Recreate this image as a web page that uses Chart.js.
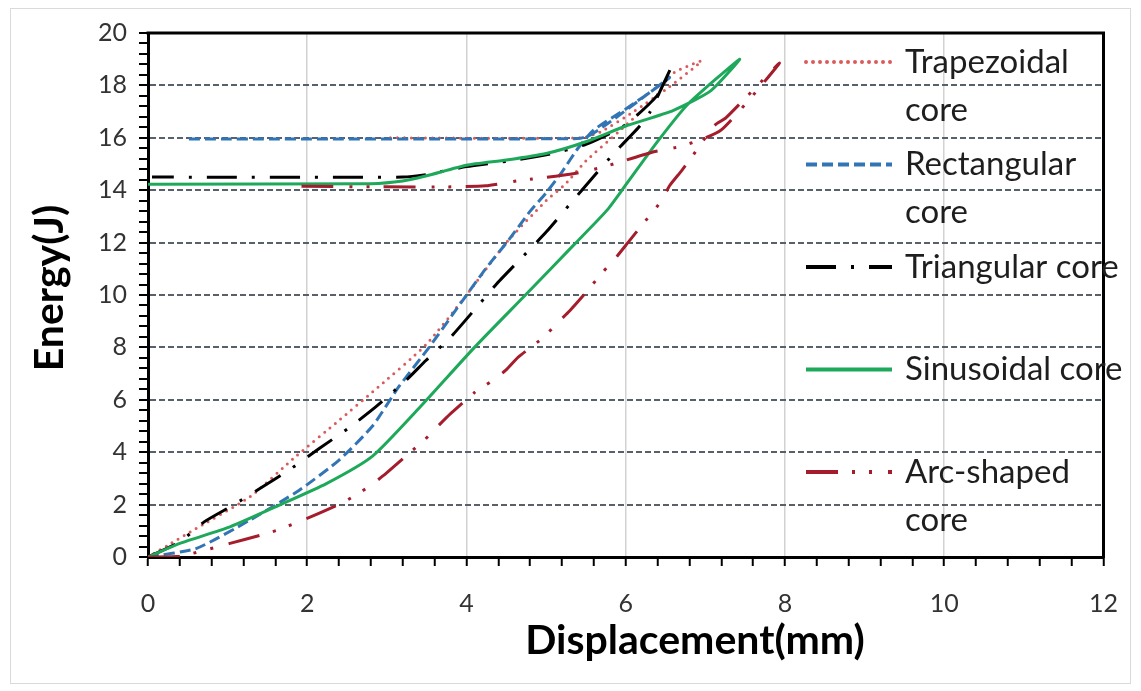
<!DOCTYPE html>
<html>
<head>
<meta charset="utf-8">
<title>Energy vs displacement</title>
<script src="https://cdn.jsdelivr.net/npm/chart.js@4.4.1/dist/chart.umd.min.js"></script>
<style>
  html, body { margin: 0; padding: 0; background: #fff; }
  #wrap { width: 1141px; height: 691px; }
</style>
</head>
<body>
<div id="wrap"><canvas id="chart" width="1141" height="691"></canvas></div>
<script>
// Impact energy absorbed vs. displacement for the five sandwich core shapes.
// Each series runs from the origin up to the peak, then back along the rebound.
const SERIES_NAMES = ["Trapezoidal core", "Rectangular core", "Triangular core", "Sinusoidal core", "Arc-shaped core"];
const LEGEND_LINES = [["Trapezoidal", "core"], ["Rectangular", "core"], ["Triangular core"], ["Sinusoidal core"], ["Arc-shaped", "core"]];

const TRAP_X = [0, 0.25, 0.53, 1.28, 1.86, 2.4, 2.82, 3.49, 4.0, 4.5, 5.0, 5.24, 5.5, 5.9, 6.37, 6.57, 6.95, 6.55, 6.1, 5.7, 5.45, 3.0];
const TRAP_Y = [0, 0.45, 0.96, 2.3, 3.85, 5.22, 6.3, 8.1, 10.0, 12.0, 13.6, 14.23, 15.12, 16.2, 17.54, 18.42, 18.93, 17.95, 17.0, 16.25, 16.0, 16.0];

const RECT_X = [0, 0.61, 1.28, 1.9, 2.4, 2.82, 3.15, 3.53, 3.86, 4.24, 4.53, 4.8, 5.0, 5.2, 5.4, 5.6, 6.0, 6.45, 6.55, 6.2, 5.8, 5.55, 5.4, 0.48];
const RECT_Y = [0, 0.33, 1.41, 2.55, 3.7, 5.0, 6.5, 8.0, 9.4, 11.0, 12.1, 13.2, 13.9, 14.7, 15.6, 16.3, 17.1, 18.05, 18.3, 17.5, 16.6, 16.1, 15.97, 15.95];

const TRI_X = [0, 0.4, 0.71, 1.07, 1.44, 1.8, 2.15, 2.51, 2.86, 3.24, 3.49, 3.8, 4.11, 4.38, 4.7, 5.0, 5.3, 5.57, 5.88, 6.16, 6.3, 6.57, 6.42, 6.0, 5.5, 5.0, 4.5, 4.0, 3.5, 3.2, 0.05];
const TRI_Y = [0, 0.58, 1.35, 1.98, 2.68, 3.38, 4.14, 4.9, 5.73, 6.74, 7.5, 8.39, 9.47, 10.43, 11.44, 12.4, 13.47, 14.43, 15.5, 16.39, 16.96, 18.68, 17.7, 16.5, 15.75, 15.35, 15.1, 14.9, 14.6, 14.5, 14.5];

const SINE_X = [0, 0.4, 1.03, 1.65, 2.24, 2.82, 3.44, 4.1, 4.74, 5.36, 5.76, 6.0, 6.41, 6.78, 7.43, 7.07, 6.6, 6.0, 5.5, 5.0, 4.5, 4.0, 3.5, 3.2, 2.8, 0];
const SINE_Y = [0, 0.52, 1.15, 1.98, 2.8, 3.85, 5.8, 8.0, 10.0, 11.95, 13.22, 14.2, 15.9, 17.28, 19.0, 17.8, 17.05, 16.45, 15.85, 15.4, 15.15, 14.95, 14.55, 14.35, 14.25, 14.23];

const ARC_X = [0, 0.4, 1.03, 1.42, 1.63, 1.84, 2.05, 2.42, 2.61, 2.8, 2.99, 3.3, 3.47, 3.63, 3.8, 4.11, 4.3, 4.49, 4.65, 4.97, 5.13, 5.3, 5.45, 5.72, 5.88, 6.03, 6.18, 6.45, 6.55, 6.7, 6.84, 7.11, 7.26, 7.93, 7.2, 6.72, 6.32, 5.7, 5.32, 4.65, 4.24, 3.6, 1.85];
const ARC_Y = [0, 0.03, 0.52, 0.84, 1.03, 1.28, 1.54, 2.04, 2.36, 2.74, 3.19, 4.01, 4.46, 4.96, 5.47, 6.3, 6.68, 7.12, 7.63, 8.39, 8.9, 9.41, 9.92, 10.9, 11.44, 12.01, 12.58, 13.6, 14.17, 14.74, 15.31, 16.46, 16.77, 18.85, 16.3, 15.7, 15.44, 14.87, 14.62, 14.36, 14.17, 14.12, 14.15];

const X_MAX = 12;
const Y_MAX = 20;
const MAJOR_STEP = 2;
const MINOR_STEP = 0.4;

const FONT = "Lato, 'Open Sans', sans-serif";

function toPoints(xs, ys) {
  return xs.map((x, i) => ({ x, y: ys[i] }));
}

function isMajor(v) {
  return Math.abs(v - Math.round(v / MAJOR_STEP) * MAJOR_STEP) < 1e-6;
}

const seriesStyles = [
  { color: "#d95c5c", dash: [0, 7], cap: "round" },
  { color: "#3275b5", dash: [11, 5], cap: "butt" },
  { color: "#000000", dash: [30, 15, 3, 15], cap: "butt" },
  { color: "#1ea85a", dash: [], cap: "butt" },
  { color: "#a51d2d", dash: [32, 14, 3, 14, 3, 16], cap: "butt" }
];

const seriesData = [
  toPoints(TRAP_X, TRAP_Y),
  toPoints(RECT_X, RECT_Y),
  toPoints(TRI_X, TRI_Y),
  toPoints(SINE_X, SINE_Y),
  toPoints(ARC_X, ARC_Y)
];

const datasets = SERIES_NAMES.map((name, i) => ({
  label: name,
  data: seriesData[i],
  borderColor: seriesStyles[i].color,
  borderDash: seriesStyles[i].dash,
  borderCapStyle: seriesStyles[i].cap,
  borderJoinStyle: "round",
  borderWidth: 3,
  pointRadius: 0,
  tension: 0.2,
  fill: false,
  order: SERIES_NAMES.length - 1 - i
}));

// frame, legend and axis titles drawn straight onto the canvas
const chartDecor = {
  id: "chartDecor",
  beforeDraw(chart) {
    const { ctx, width, height } = chart;
    ctx.save();
    ctx.fillStyle = "#fff";
    ctx.fillRect(0, 0, width, height);
    ctx.strokeStyle = "#dadada";
    ctx.lineWidth = 1;
    ctx.strokeRect(10.5, 8.5, width - 21, height - 16);
    ctx.restore();
  },
  beforeDatasetsDraw(chart) {
    const { ctx, chartArea: a } = chart;
    ctx.save();
    ctx.strokeStyle = "#000";
    ctx.lineWidth = 3;
    ctx.beginPath();
    ctx.moveTo(a.left - 1.5, a.top);
    ctx.lineTo(a.right, a.top);
    ctx.lineTo(a.right, a.bottom + 1.5);
    ctx.stroke();
    ctx.restore();
  },
  afterDatasetsDraw(chart) {
    const { ctx } = chart;
    ctx.save();

    // legend inside the plot, right side
    ctx.font = "33px " + FONT;
    ctx.textBaseline = "middle";
    ctx.textAlign = "left";
    chart.data.datasets.forEach((ds, i) => {
      const y = 62 + i * 102.5;
      ctx.strokeStyle = ds.borderColor;
      ctx.lineWidth = 4;
      ctx.lineCap = ds.borderCapStyle;
      ctx.setLineDash(ds.borderDash);
      ctx.beginPath();
      ctx.moveTo(806, y);
      ctx.lineTo(892, y);
      ctx.stroke();
      ctx.setLineDash([]);
      ctx.fillStyle = "#1e1e1e";
      LEGEND_LINES[i].forEach((line, j) => {
        ctx.fillText(line, 905, y + j * 48);
      });
    });

    // axis titles
    ctx.fillStyle = "#000";
    ctx.font = "bold 41px " + FONT;
    ctx.textAlign = "center";
    ctx.fillText("Displacement(mm)", 695, 641);
    ctx.translate(50, 288);
    ctx.rotate(-Math.PI / 2);
    ctx.fillText("Energy(J)", 0, 0);
    ctx.restore();
  }
};

new Chart(document.getElementById("chart"), {
  type: "line",
  data: { datasets },
  plugins: [chartDecor],
  options: {
    responsive: false,
    animation: false,
    layout: { padding: { left: 0, top: 33, right: 34, bottom: 0 } },
    plugins: {
      legend: { display: false },
      tooltip: { enabled: false }
    },
    scales: {
      x: {
        type: "linear",
        min: 0,
        max: X_MAX,
        afterFit: (scale) => { scale.height = 134; },
        border: { color: "#000", width: 3 },
        grid: {
          color: (c) => (isMajor(c.tick.value) && c.tick.value > 0 && c.tick.value < X_MAX ? "#d2d2d2" : "rgba(0,0,0,0)"),
          lineWidth: 1.5,
          tickColor: "#000",
          tickWidth: 2,
          tickLength: 9
        },
        ticks: {
          stepSize: MINOR_STEP,
          autoSkip: false,
          maxRotation: 0,
          padding: 23,
          color: "#333",
          font: { family: FONT, size: 25 },
          callback: (v) => (isMajor(v) ? String(Math.round(v)) : "")
        }
      },
      y: {
        type: "linear",
        min: 0,
        max: Y_MAX,
        afterFit: (scale) => { scale.width = 148; },
        border: { color: "#000", width: 3, dash: [6, 3] },
        grid: {
          color: (c) => (isMajor(c.tick.value) && c.tick.value > 0 && c.tick.value < Y_MAX ? "#56616c" : "rgba(0,0,0,0)"),
          lineWidth: 2,
          tickColor: "#000",
          tickWidth: 2,
          tickLength: 9
        },
        ticks: {
          stepSize: MINOR_STEP,
          autoSkip: false,
          padding: 12,
          color: "#333",
          font: { family: FONT, size: 25 },
          callback: (v) => (isMajor(v) ? String(Math.round(v)) : "")
        }
      }
    }
  }
});
</script>
</body>
</html>
